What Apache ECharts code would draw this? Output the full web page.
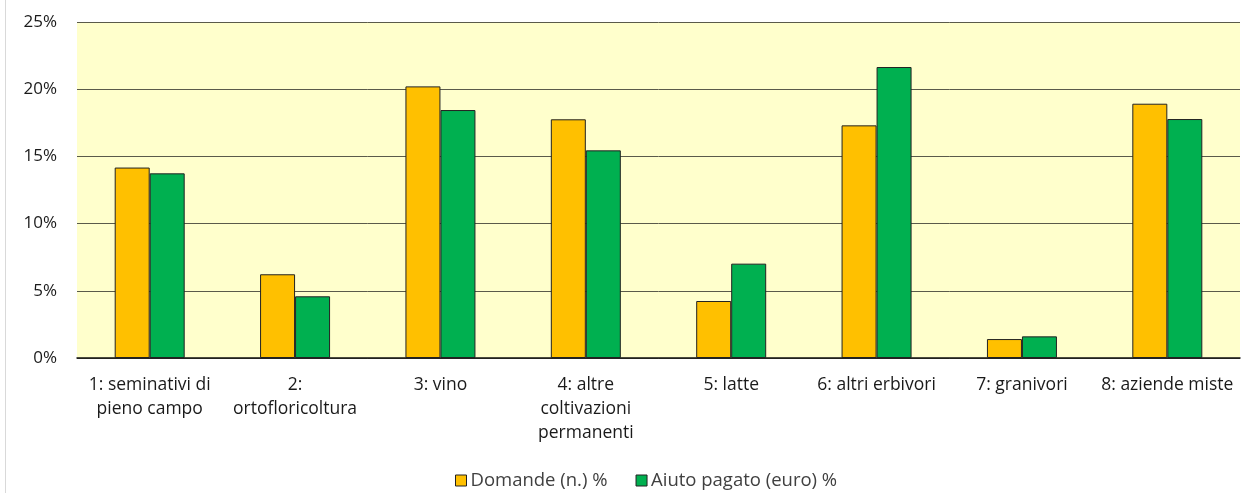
<!DOCTYPE html>
<html>
<head>
<meta charset="utf-8">
<script src="https://cdn.jsdelivr.net/npm/echarts@6/dist/echarts.min.js"></script>
<style>
html,body{margin:0;padding:0;background:#fff;}
#frame{position:absolute;left:5px;top:-2px;width:1260px;height:500px;border-left:1px solid #d9d9d9;}
#bar{position:absolute;left:0;top:0;width:1252px;height:493px;}
</style>
</head>
<body>
<div id="frame"></div>
<div id="bar"></div>
<script>
var categories = ['1: seminativi di\npieno campo', '2:\nortofloricoltura', '3: vino', '4: altre\ncoltivazioni\npermanenti',
    '5: latte', '6: altri erbivori', '7: granivori', '8: aziende miste'];
var legendData = ['Domande (n.) %', 'Aiuto pagato (euro) %'];
var domande = [14.17, 6.23, 20.21, 17.76, 4.24, 17.31, 1.41, 18.92];
var aiuto = [13.74, 4.59, 18.45, 15.45, 7.02, 21.65, 1.61, 17.78];
var yTicks = [0, 5, 10, 15, 20, 25];
var colors = ['#FFC000', '#00B050'];
var font = '"Open Sans", "Noto Sans", sans-serif';

var serieData = [domande, aiuto].map(function (d, i) {
    return {
        name: legendData[i],
        type: 'bar',
        barWidth: 35,
        barGap: '0%',
        itemStyle: {color: colors[i], borderColor: '#222', borderWidth: 1},
        data: d
    };
});

var myChart = echarts.init(document.getElementById('bar'));
myChart.setOption({
    animation: false,
    color: colors,
    grid: {left: 77, right: 12, top: 22, bottom: 135, show: true, backgroundColor: '#FFFFCC', borderWidth: 0},
    legend: {
        data: legendData, top: 466, left: 450, itemWidth: 11, itemHeight: 11, itemGap: 28,
        icon: 'rect',
        itemStyle: {borderColor: '#222', borderWidth: 1},
        textStyle: {color: '#404040', fontSize: 18.5, fontFamily: font, padding: [0, 0, 2, -1]}
    },
    xAxis: {
        type: 'category',
        data: categories,
        axisLine: {show: true, lineStyle: {color: '#111', width: 1.5}},
        axisTick: {show: false},
        axisLabel: {interval: 0, color: '#1a1a1a', fontSize: 17.5, fontFamily: font, lineHeight: 24, margin: 15}
    },
    yAxis: {
        type: 'value',
        min: yTicks[0], max: yTicks[yTicks.length - 1], interval: 5,
        axisLine: {show: false},
        axisTick: {show: false},
        splitLine: {lineStyle: {color: '#5a5a4a', width: 1}},
        axisLabel: {formatter: '{value}%', color: '#1a1a1a', fontSize: 17, fontFamily: font, margin: 20}
    },
    series: serieData
});
</script>
</body>
</html>
